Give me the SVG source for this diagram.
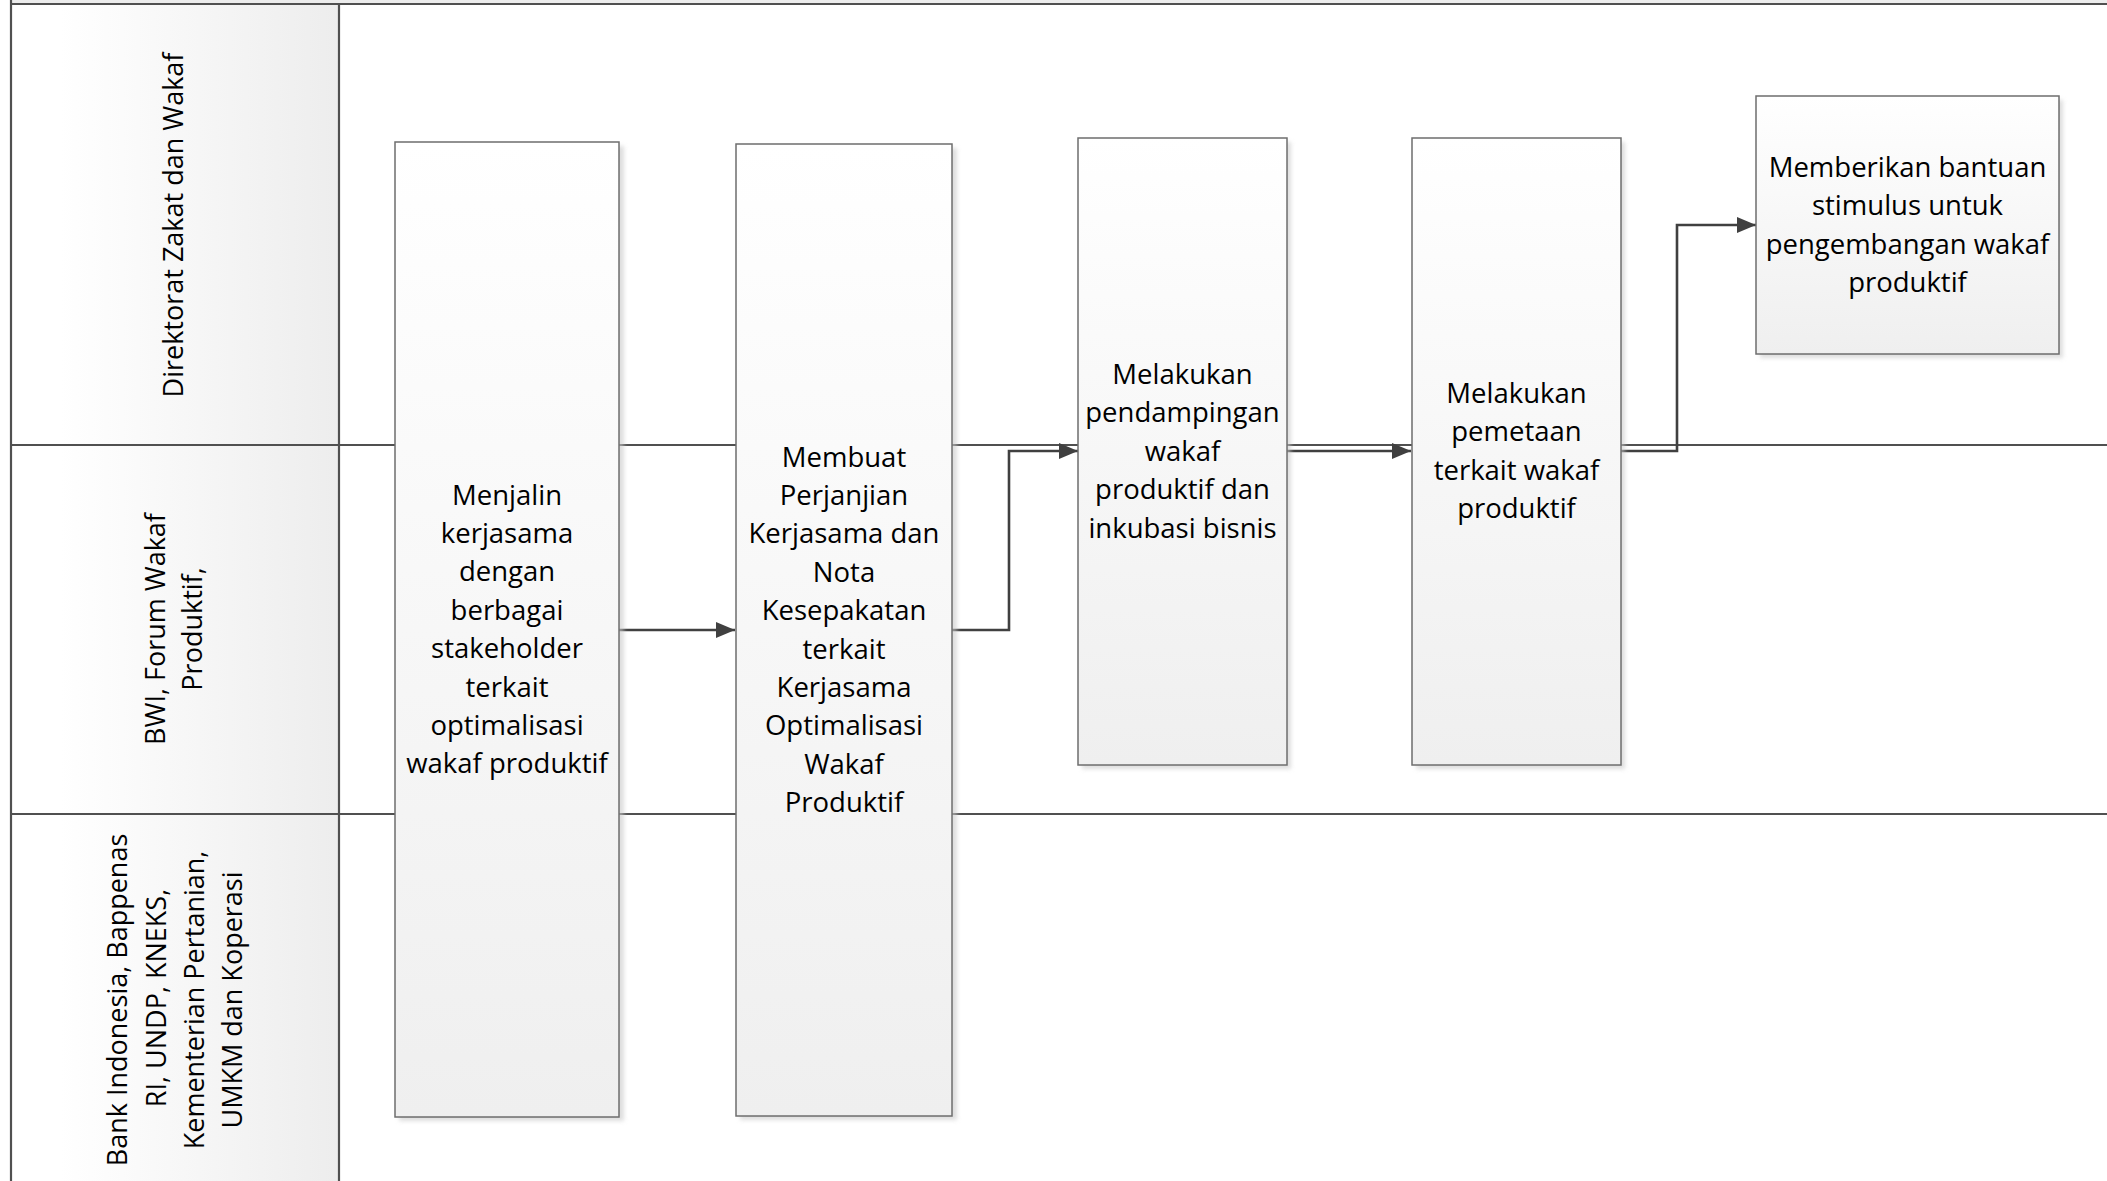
<svg xmlns="http://www.w3.org/2000/svg" width="2107" height="1181" viewBox="0 0 2107 1181">
<style>
.lane{stroke:#505050;stroke-width:2.2;fill:none}
.box{fill:url(#gBox);stroke:#6e6e6e;stroke-width:1.5}
.shadow{fill:#c8c8c8;opacity:0.6;filter:url(#blur)}
.t{font-family:"Open Sans","Noto Sans","Liberation Sans",sans-serif;font-size:27.5px;fill:#000;text-anchor:middle}
.lt{font-family:"Open Sans","Noto Sans","Liberation Sans",sans-serif;font-size:27px;fill:#000;text-anchor:middle}
.conn{stroke:#404040;stroke-width:2.6;fill:none;marker-end:url(#arr)}
</style>
<defs>
<linearGradient id="gBox" x1="0" y1="0" x2="0" y2="1">
<stop offset="0" stop-color="#ffffff"/>
<stop offset="1" stop-color="#efefef"/>
</linearGradient>
<linearGradient id="gHead" x1="0" y1="0" x2="1" y2="0">
<stop offset="0.15" stop-color="#ffffff"/>
<stop offset="1" stop-color="#ededed"/>
</linearGradient>
<filter id="blur" x="-10%" y="-10%" width="120%" height="120%">
<feGaussianBlur stdDeviation="2"/>
</filter>
<marker id="arr" markerUnits="userSpaceOnUse" markerWidth="20" markerHeight="16" refX="19" refY="8" orient="auto">
<path d="M0,0 L19,8 L0,16 Z" fill="#404040"/>
</marker>
</defs>
<rect x="0" y="0" width="2107" height="1181" fill="#ffffff"/>
<rect x="11" y="0" width="2096" height="4" fill="#ececec"/>
<g id="lanes">
<rect x="11" y="4" width="328" height="1180" fill="url(#gHead)"/>
<line class="lane" x1="11" y1="4" x2="2107" y2="4"/>
<line class="lane" x1="11" y1="445" x2="2107" y2="445"/>
<line class="lane" x1="11" y1="814" x2="2107" y2="814"/>
<line class="lane" x1="11" y1="0" x2="11" y2="1181"/>
<line class="lane" x1="339" y1="4" x2="339" y2="1181"/>
</g>
<g id="lane1">
<text class="lt" transform="translate(183,225) rotate(-90)">Direktorat Zakat dan Wakaf</text>
</g>
<g id="lane2">
<text class="lt" transform="translate(165,629) rotate(-90)">BWI, Forum Wakaf</text>
<text class="lt" transform="translate(202,629) rotate(-90)">Produktif,</text>
</g>
<g id="lane3">
<text class="lt" transform="translate(127,1000) rotate(-90)">Bank Indonesia,  Bappenas</text>
<text class="lt" transform="translate(166,998) rotate(-90)">RI, UNDP, KNEKS,</text>
<text class="lt" transform="translate(204,1000) rotate(-90)">Kementerian Pertanian,</text>
<text class="lt" transform="translate(242,1000) rotate(-90)">UMKM dan Koperasi</text>
</g>
<g id="connectors">
<path class="conn" d="M619,630 H735"/>
<path class="conn" d="M952,630 H1009 V451 H1078"/>
<path class="conn" d="M1287,451 H1411"/>
<path class="conn" d="M1621,451 H1677 V225 H1756"/>
</g>
<g id="node1">
<rect class="shadow" x="399" y="146" width="225" height="975"/>
<rect class="box" x="395" y="142" width="224" height="975"/>
<text class="t" x="507" y="504.5">Menjalin<tspan x="507" dy="38.4">kerjasama</tspan><tspan x="507" dy="38.4">dengan</tspan><tspan x="507" dy="38.4">berbagai</tspan><tspan x="507" dy="38.4">stakeholder</tspan><tspan x="507" dy="38.4">terkait</tspan><tspan x="507" dy="38.4">optimalisasi</tspan><tspan x="507" dy="38.4">wakaf produktif</tspan></text>
</g>
<g id="node2">
<rect class="shadow" x="740" y="148" width="217" height="972"/>
<rect class="box" x="736" y="144" width="216" height="972"/>
<text class="t" x="844" y="466.5">Membuat<tspan x="844" dy="38.4">Perjanjian</tspan><tspan x="844" dy="38.4">Kerjasama dan</tspan><tspan x="844" dy="38.4">Nota</tspan><tspan x="844" dy="38.4">Kesepakatan</tspan><tspan x="844" dy="38.4">terkait</tspan><tspan x="844" dy="38.4">Kerjasama</tspan><tspan x="844" dy="38.4">Optimalisasi</tspan><tspan x="844" dy="38.4">Wakaf</tspan><tspan x="844" dy="38.4">Produktif</tspan></text>
</g>
<g id="node3">
<rect class="shadow" x="1082" y="142" width="209" height="627"/>
<rect class="box" x="1078" y="138" width="209" height="627"/>
<text class="t" x="1182.5" y="384">Melakukan<tspan x="1182.5" dy="38.4">pendampingan</tspan><tspan x="1182.5" dy="38.4">wakaf</tspan><tspan x="1182.5" dy="38.4">produktif dan</tspan><tspan x="1182.5" dy="38.4">inkubasi bisnis</tspan></text>
</g>
<g id="node4">
<rect class="shadow" x="1416" y="142" width="209" height="627"/>
<rect class="box" x="1412" y="138" width="209" height="627"/>
<text class="t" x="1516.5" y="403">Melakukan<tspan x="1516.5" dy="38.4">pemetaan</tspan><tspan x="1516.5" dy="38.4">terkait wakaf</tspan><tspan x="1516.5" dy="38.4">produktif</tspan></text>
</g>
<g id="node5">
<rect class="shadow" x="1760" y="100" width="303" height="258"/>
<rect class="box" x="1756" y="96" width="303" height="258"/>
<text class="t" x="1907.5" y="177">Memberikan bantuan<tspan x="1907.5" dy="38.4">stimulus untuk</tspan><tspan x="1907.5" dy="38.4">pengembangan wakaf</tspan><tspan x="1907.5" dy="38.4">produktif</tspan></text>
</g>
</svg>
